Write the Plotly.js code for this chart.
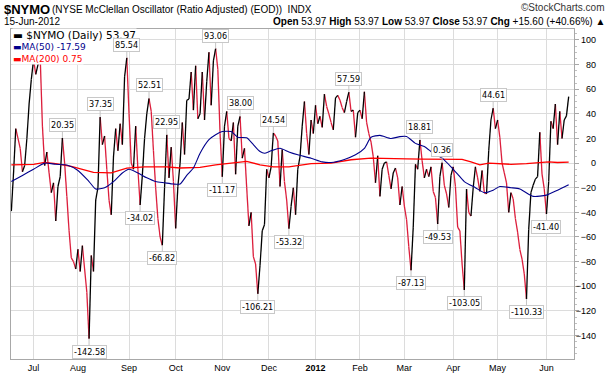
<!DOCTYPE html>
<html><head><meta charset="utf-8">
<script src="https://cdn.plot.ly/plotly-3.0.1.min.js"></script>
<style>html,body{margin:0;padding:0;background:#fff}#chart{width:612px;height:376px}</style>
</head><body><div id="chart"></div>
<script>
// NYSE McClellan Oscillator, daily, 17-Jun-2011 .. 15-Jun-2012 (trading-day index)
const nymo = [
 -39, -8, 28, 20, 12, -7, -2, 20, 48, 68,
 84, 72, 80, 86, 30, -2, 9, -8, -24, -16,
 -47, -19, -11, 20.35, 0, -27, -55, -77, -80, -86,
 -70, -88, -67, -86, -105, -142.58, -75, -88, -30, -20,
 37.35, 15, 22, -5, -30, -42, 5, 28, 10, 32,
 15, 70, 85.54, 40, 0, -5, 30, -5, -34.02, -10,
 20, 40, 52.51, 42, 10, -20, -45, -60, -66.82, -20,
 22.95, -12, 13, -15, -53, -19, 0, 33, 7, 51,
 52, 74, 43, 79, 36, 40, 74, 35, 66, 90,
 47, 83, 93.06, 76, 24, -11.17, 30, 42, 20, 18,
 33, -9, 30, 38.00, 4, 12, -20, -51, -40, -76,
 -82, -106.21, -83, -55, -50, -5, -12, -3, 24.54, 22,
 18, -19, 11, -15, -30, -53.32, -35, -20, -42, -5,
 5, 30, 50, 24, 7, 35, 24, 47, 32, 38,
 29, 56, 46, 40, 33, 27, 53, 55, 51, 45,
 41, 50, 57.59, 42, 43, 21, 41, 43, 36, 58,
 33, 24, 17, 5, -16, 6, -27, -5, 0, 1,
 -10, -21, -8, -4, -12, -34, -19, -35, -46, -68,
 -87.13, -52, -1, -5, 18.81, 2, -12, -5, -11, -3,
 -23, -28, -49.53, -11, 0.36, -18, -25, -36, -10, -3,
 -19, -52, -55, -82, -103.05, -21, -40, -43, -20, -3,
 -12, -23, -6, -24, -25, 10, 35, 44.61, 28, 35,
 21, 0, -8, -16, -40, -24, -29, -45, -56, -70,
 -78, -90, -110.33, -54, -24, -18, -13, -11, 25, -9,
 -21, -41.40, -15, 34, 28, 48, 15, 42, 20, 35,
 38.37, 53.97
];
const ma50Idx = [0,5,10,15,20,25,30,35,38,42,46,50,53,57,61,65,69,73,76,79,82,85,89,92,95,99,102,106,109,112,114,117,121,125,129,135,140,144,150,155,159,162,166,171,175,178,182,186,190,194,198,201,204,209,213,217,220,225,229,235,241,246,251];
const ma50Val = [-15,-10,-5,0,-1,-1.5,-6,-15,-21,-20,-15,-8,-5,-8,-12,-15,-16,-17,-17,-10,-4,8,19,23,25.6,25.6,21,20.5,15,9.4,8,10,12,9,6.7,4,1,0.5,3,6.7,12,21,22.5,20,21.5,21.6,16,13.5,8,4,-3,-9,-15,-20,-24,-22,-19,-20,-21,-27,-26,-22,-17.59];
const ma200Idx = [0,10,15,20,27,37,45,52,60,70,76,85,92,99,106,112,118,125,130,135,144,153,162,170,178,185,195,203,207,211,215,220,225,232,238,242,246,251];
const ma200Val = [-1.4,-1,0.5,-0.5,-2.7,-7.6,-8,-4,-3,-3,-4,-3.5,-1.5,0,1.4,-1.4,-3,-3,-2,-0.5,0,2.7,4,4,3.5,3.3,3.3,3,1,-1.4,0,-0.5,-1,-0.5,0.5,1,0.5,0.75];
const monthIdx = [10,30,53,74,95,116,137,157,177,199,219,241];
const monthText = ['Jul','Aug','Sep','Oct','Nov','Dec','<b>2012</b>','Feb','Mar','Apr','May','Jun'];
const yTicks = [100,80,60,40,20,0,-20,-40,-60,-80,-100,-120,-140];
const labelIdx = [23,35,40,52,58,62,68,70,92,95,103,111,118,125,152,180,184,192,194,204,217,232,241];

const W=612,H=376,L=11,R=14,T=29,B=17;
const PW=W-L-R, PH=H-T-B;
const plotRight=574;
const xDomEnd=(plotRight-L)/PW;
const px=x=>(x-L)/PW;
const py=y=>1-(y-T)/PH;
const YR=[-159.1,108.9];

const idx = nymo.map((_,i)=>i);
const upX=[],upY=[],dnX=[],dnY=[];
for(let i=1;i<nymo.length;i++){
  if(nymo[i]>=nymo[i-1]){upX.push(idx[i-1],idx[i],null);upY.push(nymo[i-1],nymo[i],null);}
  else{dnX.push(idx[i-1],idx[i],null);dnY.push(nymo[i-1],nymo[i],null);}
}
const last=nymo[nymo.length-1], prev=nymo[nymo.length-2];
const chg=last-prev, pct=chg/prev*100;
const f2=v=>v.toFixed(2);

const traces=[
 {x:dnX,y:dnY,mode:'lines',line:{color:'#dc1e3c',width:1.3},hoverinfo:'skip',showlegend:false},
 {x:upX,y:upY,mode:'lines',line:{color:'#000000',width:1.3},hoverinfo:'skip',showlegend:false},
 {x:ma200Idx,y:ma200Val,mode:'lines',line:{color:'#ff0000',width:1.3},hoverinfo:'skip',showlegend:false},
 {x:ma50Idx,y:ma50Val,mode:'lines',line:{color:'#00008c',width:1.1,shape:'spline',smoothing:0.6},hoverinfo:'skip',showlegend:false},
 {x:[null],y:[null],yaxis:'y2',mode:'lines',hoverinfo:'skip',showlegend:false}
];

const hdrFont={family:'"Liberation Sans", Arial, sans-serif',size:10,color:'#000'};
const ann=[];
ann.push({xref:'paper',yref:'paper',x:px(2),y:py(9),xanchor:'left',yanchor:'middle',showarrow:false,
  text:'<b>$NYMO</b>',font:{family:'"Liberation Sans", Arial, sans-serif',size:13,color:'#000'}});
ann.push({xref:'paper',yref:'paper',x:px(50),y:py(9),xanchor:'left',yanchor:'middle',showarrow:false,
  text:'(NYSE McClellan Oscillator (Ratio Adjusted) (EOD))  INDX',font:hdrFont});
ann.push({xref:'paper',yref:'paper',x:px(607),y:py(8),xanchor:'right',yanchor:'middle',showarrow:false,
  text:'©StockCharts.com',font:{family:'"Liberation Sans", Arial, sans-serif',size:10,color:'#333'}});
ann.push({xref:'paper',yref:'paper',x:px(2),y:py(21),xanchor:'left',yanchor:'middle',showarrow:false,
  text:'15-Jun-2012',font:hdrFont});
ann.push({xref:'paper',yref:'paper',x:px(607),y:py(21),xanchor:'right',yanchor:'middle',showarrow:false,
  text:'<b>Open</b> '+f2(last)+' <b>High</b> '+f2(last)+' <b>Low</b> '+f2(last)+' <b>Close</b> '+f2(last)+' <b>Chg</b> +'+f2(chg)+' (+'+f2(pct)+'%) ▲',font:hdrFont});
// legend
ann.push({xref:'paper',yref:'paper',x:px(12),y:py(34.5),xanchor:'left',yanchor:'middle',showarrow:false,bgcolor:'#fff',borderpad:0,
  text:'<span style="color:#000">▬</span> $NYMO (Daily) '+f2(last),font:{family:'"DejaVu Sans", sans-serif',size:10.5,color:'#000'}});
ann.push({xref:'paper',yref:'paper',x:px(12),y:py(47),xanchor:'left',yanchor:'middle',showarrow:false,bgcolor:'#fff',borderpad:0,
  text:'▬MA(50) '+f2(ma50Val[ma50Val.length-1]),font:{family:'"DejaVu Sans", sans-serif',size:9,color:'#00008c'}});
ann.push({xref:'paper',yref:'paper',x:px(12),y:py(59),xanchor:'left',yanchor:'middle',showarrow:false,bgcolor:'#fff',borderpad:0,
  text:'▬MA(200) '+f2(ma200Val[ma200Val.length-1]),font:{family:'"DejaVu Sans", sans-serif',size:9,color:'#ff0000'}});
// value labels
labelIdx.forEach(k=>{
  const v=nymo[k]; const peak=v>nymo[k-1];
  ann.push({x:idx[k],y:v,xref:'x',yref:'y',text:f2(v),showarrow:true,arrowhead:0,arrowwidth:1,arrowcolor:'#c4c4c4',
    ax:0,ay:peak?-13:13,bgcolor:'#fff',bordercolor:'#c8c8c8',borderwidth:1,borderpad:1,
    font:{family:'"DejaVu Sans Condensed","DejaVu Sans",sans-serif',size:9,color:'#000'}});
});

const layout={
 width:W,height:H,margin:{l:L,r:R,t:T,b:B},paper_bgcolor:'#fff',plot_bgcolor:'#fff',showlegend:false,
 xaxis:{domain:[0,xDomEnd],range:[-0.15,253.4],tickmode:'array',tickvals:monthIdx,ticktext:monthText,
   showgrid:true,gridcolor:'#dcdcdc',gridwidth:1,zeroline:false,showline:true,linecolor:'#a8a8a8',mirror:true,
   ticks:'',tickfont:{family:'"Liberation Sans", Arial, sans-serif',size:9,color:'#000'},fixedrange:true},
 yaxis:{range:YR,tickmode:'linear',tick0:0,dtick:20,side:'right',showgrid:true,gridcolor:'#dcdcdc',zeroline:false,
   showline:true,linecolor:'#a8a8a8',mirror:true,ticks:'outside',ticklen:4,tickcolor:'#a8a8a8',showticklabels:false,
   minor:{dtick:5,ticks:'outside',ticklen:2,tickcolor:'#c0c0c0',showgrid:false},fixedrange:true},
 yaxis2:{overlaying:'y',range:YR,side:'left',anchor:'free',position:(596-L)/PW,tickmode:'array',tickvals:yTicks,
   showgrid:false,zeroline:false,showline:false,ticks:'',ticklabelstandoff:0,
   tickfont:{family:'"Liberation Sans", Arial, sans-serif',size:9,color:'#000'},fixedrange:true},
 annotations:ann
};
Plotly.newPlot('chart',traces,layout,{staticPlot:true,displayModeBar:false});
</script></body></html>
